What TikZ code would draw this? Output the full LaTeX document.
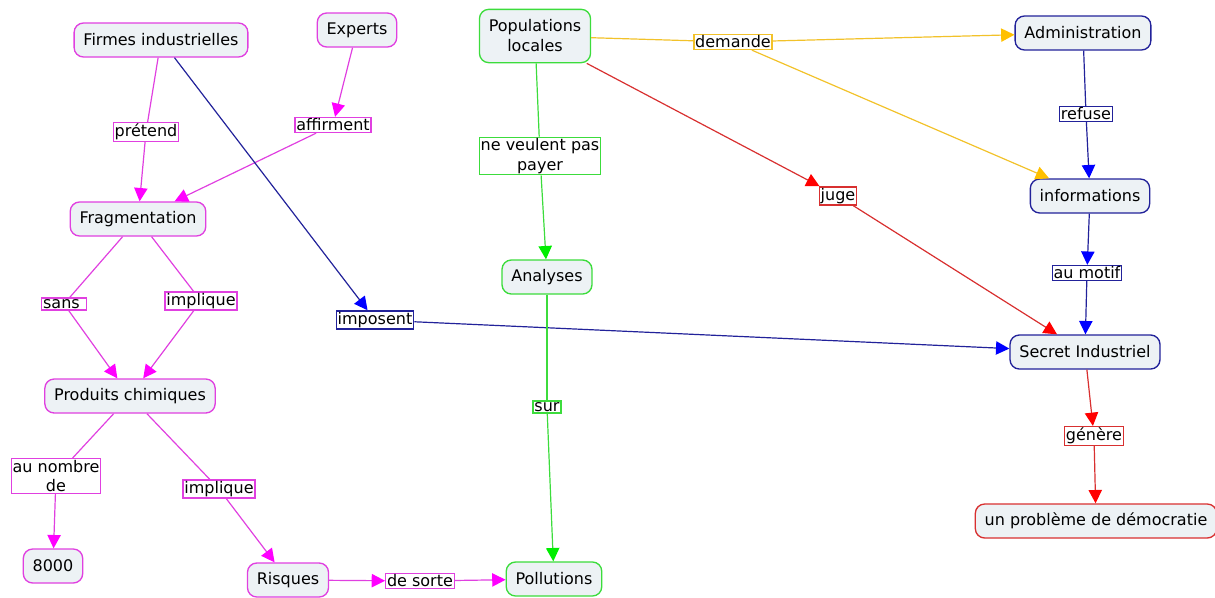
\documentclass[tikz,border=0pt]{standalone}
\usepackage{fontspec}
\setmainfont{DejaVu Sans}
\usetikzlibrary{arrows.meta}
\definecolor{mag}{HTML}{E040E0}
\definecolor{magA}{HTML}{FF00FF}
\definecolor{grn}{HTML}{3CDC3C}
\definecolor{grnA}{HTML}{00EE00}
\definecolor{rd}{HTML}{D83030}
\definecolor{rdA}{HTML}{FF0000}
\definecolor{yel}{HTML}{F2C22A}
\definecolor{yelA}{HTML}{FFC000}
\definecolor{nav}{HTML}{22229A}
\definecolor{bluA}{HTML}{0000FF}
\definecolor{nodefill}{HTML}{EDF2F5}
\tikzset{
  concept/.style={draw, rounded corners=7pt, fill=nodefill, line width=1pt, inner xsep=7pt, inner ysep=3pt, minimum height=25.5pt, align=center, font=\fontsize{12}{15}\selectfont},
  lbl/.style={draw, fill=white, inner xsep=1pt, inner ysep=1pt, line width=1pt, align=center, font=\fontsize{12}{14.5}\selectfont},
  tipM/.style={-{Triangle[length=10pt,width=10pt,color=#1]}},
  mline/.style={draw=mag, line width=0.9pt},
  gline/.style={draw=grn, line width=0.9pt},
  rline/.style={draw=rd, line width=0.9pt},
  yline/.style={draw=yel, line width=0.9pt},
  bline/.style={draw=nav, line width=0.9pt},
  marr/.style={mline, tipM=magA},
  garr/.style={gline, tipM=grnA},
  rarr/.style={rline, tipM=rdA},
  yarr/.style={yline, tipM=yelA},
  barr/.style={bline, tipM=bluA},
}
\begin{document}
\begin{tikzpicture}[x=0.75pt, y=-0.75pt]
\useasboundingbox (0,0) rectangle (1215,597);
% concepts
\node[concept, draw=mag] (firmes) at (161,40) {Firmes industrielles};
\node[concept, draw=mag] (experts) at (357,30) {Experts};
\node[concept, draw=grn, minimum height=40pt] (pop) at (535,36) {Populations\\locales};
\node[concept, draw=nav] (admin) at (1083,33) {Administration};
\node[concept, draw=nav] (info) at (1090,196) {informations};
\node[concept, draw=nav] (secret) at (1085,352) {Secret Industriel};
\node[concept, draw=rd] (prob) at (1096,521) {un problème de démocratie};
\node[concept, draw=mag] (frag) at (138,219) {Fragmentation};
\node[concept, draw=mag] (prod) at (130,396) {Produits chimiques};
\node[concept, draw=mag] (huit) at (53,566) {8000};
\node[concept, draw=mag] (risq) at (288,580) {Risques};
\node[concept, draw=grn] (poll) at (554,579) {Pollutions};
\node[concept, draw=grn] (anal) at (547,277) {Analyses};
% linking phrases
\node[lbl, draw=mag] (pretend) at (146,132) {prétend};
\node[lbl, draw=mag] (affirm) at (333,125) {affirment};
\node[lbl, draw=yel] (demande) at (733,42) {demande};
\node[lbl, draw=nav] (refuse) at (1086,114) {refuse};
\node[lbl, draw=grn] (neveul) at (540,156) {ne veulent pas\\payer};
\node[lbl, draw=rd] (juge) at (838,196) {juge};
\node[lbl, draw=nav] (motif) at (1087,273) {au motif};
\node[lbl, draw=mag] (sans) at (64,304) {sans~};
\node[lbl, draw=mag] (impl1) at (201,301) {implique};
\node[lbl, draw=nav] (imposent) at (375,320) {imposent};
\node[lbl, draw=mag] (nombre) at (56,476) {au nombre\\de};
\node[lbl, draw=mag] (impl2) at (219,489) {implique};
\node[lbl, draw=grn] (sur) at (547,407) {sur};
\node[lbl, draw=mag] (sorte) at (420,581) {de sorte};
\node[lbl, draw=rd] (genere) at (1094,436) {génère};
% magenta connectors
\draw[mline] (firmes) -- (pretend);
\draw[marr] (pretend) -- (frag);
\draw[marr] (experts) -- (affirm);
\draw[marr] (affirm) -- (frag);
\draw[mline] (frag) -- (sans);
\draw[marr] (sans) -- (prod);
\draw[mline] (frag) -- (impl1);
\draw[marr] (impl1) -- (prod);
\draw[mline] (prod) -- (nombre);
\draw[marr] (nombre) -- (huit);
\draw[mline] (prod) -- (impl2);
\draw[marr] (impl2) -- (risq);
\draw[marr] (risq) -- (sorte);
\draw[marr] (sorte) -- (poll);
% blue connectors
\draw[barr] (firmes) -- (imposent);
\draw[barr] (imposent) -- (secret);
\draw[bline] (admin) -- (refuse);
\draw[barr] (refuse) -- (info);
\draw[barr] (info) -- (motif);
\draw[barr] (motif) -- (secret);
% yellow connectors
\draw[yline] (pop) -- (demande);
\draw[yarr] (demande) -- (admin);
\draw[yarr] (demande) -- (info);
% red connectors
\draw[rarr] (pop) -- (juge);
\draw[rarr] (juge) -- (secret);
\draw[rarr] (secret) -- (genere);
\draw[rarr] (genere) -- (prob);
% green connectors
\draw[gline] (pop) -- (neveul);
\draw[garr] (neveul) -- (anal);
\draw[gline] (anal) -- (sur);
\draw[garr] (sur) -- (poll);
\end{tikzpicture}
\end{document}
